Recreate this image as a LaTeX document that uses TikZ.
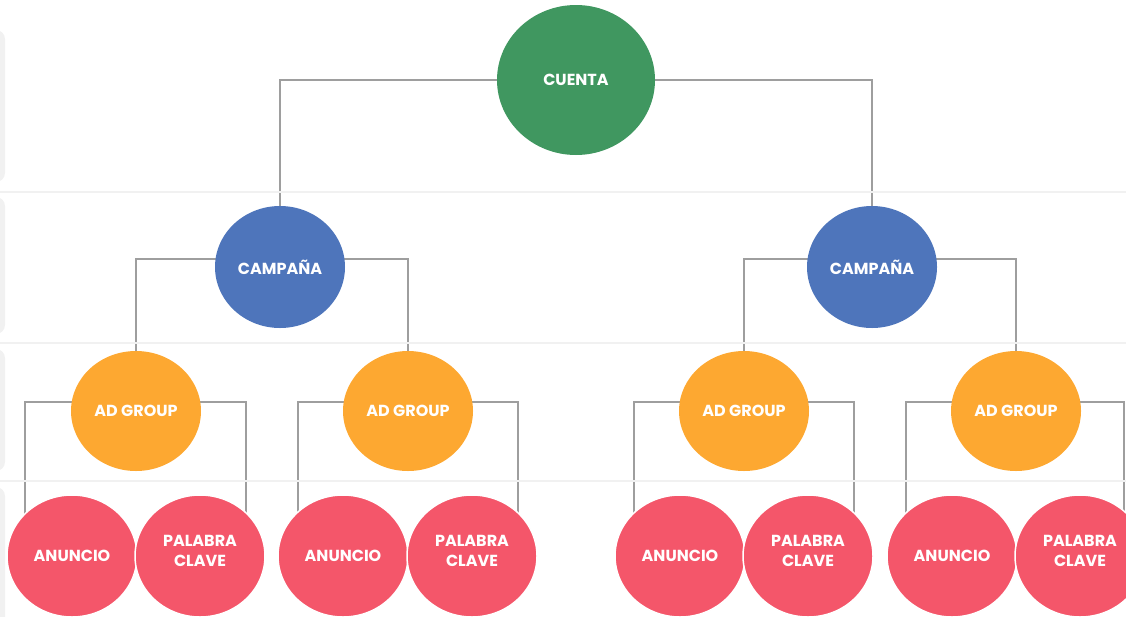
\documentclass[tikz,border=0pt]{standalone}
\usepackage{fontspec}
\setmainfont{Poppins}
\usetikzlibrary{shapes.geometric}
\pgfdeclarelayer{bg}
\pgfsetlayers{bg,main}
\definecolor{cgreen}{HTML}{409760}
\definecolor{cblue}{HTML}{4E75BB}
\definecolor{corange}{HTML}{FDA831}
\definecolor{cred}{HTML}{F4566A}
\definecolor{cline}{HTML}{9E9E9E}
\definecolor{cfaint}{HTML}{F1F1F1}
\newcommand{\twoline}[2]{\raisebox{3.5pt}[\height][\depth]{\begin{tabular}{@{}c@{}}#1\\#2\end{tabular}}}
\tikzset{
  bubble/.style={ellipse, inner sep=0pt, text=white, align=center,
    font=\fontsize{16}{19.5}\selectfont\bfseries},
  cuentabox/.style={bubble, fill=cgreen, minimum width=158pt, minimum height=150pt},
  campbox/.style={bubble, fill=cblue, minimum width=130pt, minimum height=122pt},
  groupbox/.style={bubble, fill=corange, minimum width=130pt, minimum height=120pt},
  leafbox/.style={bubble, fill=cred, draw=white, line width=1.5pt, minimum width=130pt, minimum height=122pt},
  link/.style={draw=cline, line width=1.8pt},
  rowline/.style={draw=cfaint, line width=1.5pt},
  rowtab/.style={fill=cfaint, rounded corners=9pt}
}
\begin{document}
\begin{tikzpicture}[x=1pt,y=-1pt]
\useasboundingbox (0,0) rectangle (1126,616);
\clip (0,0) rectangle (1126,616);
% faint row background
\fill[rowtab] (-60,30) rectangle (5,182);
\fill[rowtab] (-60,197) rectangle (5,334);
\fill[rowtab] (-60,349) rectangle (5,471);
\fill[rowtab] (-60,487) rectangle (5,660);
\draw[rowline] (0,192) -- (1126,192);
\draw[rowline] (0,343) -- (1126,343);
\draw[rowline] (0,481) -- (1126,481);

% nodes
\node[cuentabox] (cu) at (576,80) {CUENTA};
\node[campbox] (ca1) at (280,267) {CAMPAÑA};
\node[campbox] (ca2) at (872,267) {CAMPAÑA};
\node[groupbox] (ag1) at (136,411) {AD GROUP};
\node[groupbox] (ag2) at (408,411) {AD GROUP};
\node[groupbox] (ag3) at (744,411) {AD GROUP};
\node[groupbox] (ag4) at (1016,411) {AD GROUP};
\node[leafbox] (an1) at (72,556) {ANUNCIO};
\node[leafbox] (pc1) at (200,556) {\twoline{PALABRA}{CLAVE}};
\node[leafbox] (an2) at (343,556) {ANUNCIO};
\node[leafbox] (pc2) at (472,556) {\twoline{PALABRA}{CLAVE}};
\node[leafbox] (an3) at (680,556) {ANUNCIO};
\node[leafbox] (pc3) at (808,556) {\twoline{PALABRA}{CLAVE}};
\node[leafbox] (an4) at (952,556) {ANUNCIO};
\node[leafbox] (pc4) at (1080,556) {\twoline{PALABRA}{CLAVE}};

% connectors
\begin{pgfonlayer}{bg}
\draw[link] (cu.center) -| (ca1.center);
\draw[link] (cu.center) -| (ca2.center);
\draw[link] ([yshift=8pt]ca1.center) -| (ag1.center);
\draw[link] ([yshift=8pt]ca1.center) -| (ag2.center);
\draw[link] ([yshift=8pt]ca2.center) -| (ag3.center);
\draw[link] ([yshift=8pt]ca2.center) -| (ag4.center);
\draw[link] ([yshift=9pt]ag1.center) -| ([xshift=-47pt]an1.center);
\draw[link] ([yshift=9pt]ag1.center) -| ([xshift=46pt]pc1.center);
\draw[link] ([yshift=9pt]ag2.center) -| ([xshift=-45pt]an2.center);
\draw[link] ([yshift=9pt]ag2.center) -| ([xshift=46pt]pc2.center);
\draw[link] ([yshift=9pt]ag3.center) -| ([xshift=-46pt]an3.center);
\draw[link] ([yshift=9pt]ag3.center) -| ([xshift=46pt]pc3.center);
\draw[link] ([yshift=9pt]ag4.center) -| ([xshift=-46pt]an4.center);
\draw[link] ([yshift=9pt]ag4.center) -| ([xshift=44pt]pc4.center);
\end{pgfonlayer}
\end{tikzpicture}
\end{document}
